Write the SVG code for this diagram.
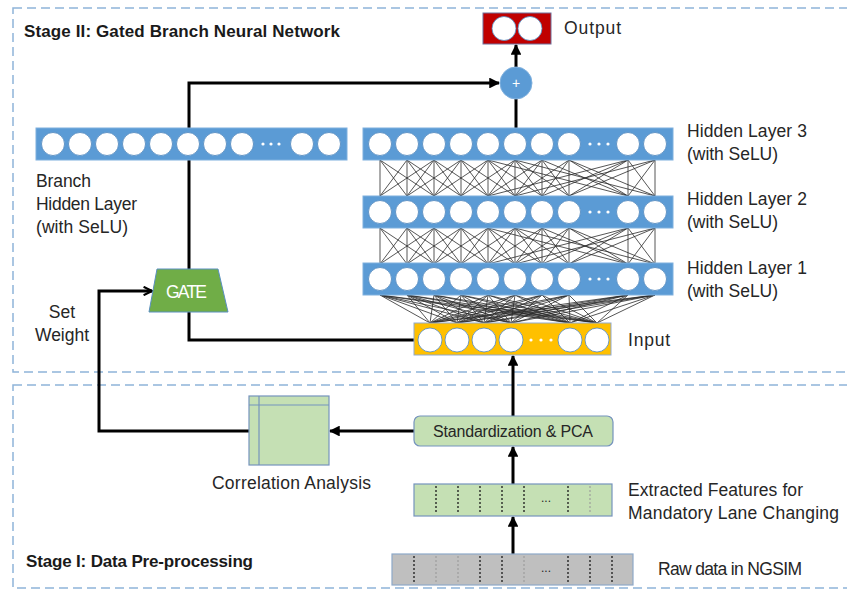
<svg xmlns="http://www.w3.org/2000/svg" xmlns:xlink="http://www.w3.org/1999/xlink" width="847" height="590" viewBox="0 0 847 590">
  <style>
    .frame { fill: none; stroke: #8fb4d9; stroke-width: 1.5; stroke-dasharray: 9 5; }
    .t { font-family: "Liberation Sans", Arial, sans-serif; font-size: 17.5px; fill: #262626; }
    .h { font-weight: bold; font-size: 17px; fill: #1a1a1a; }
    .bar { fill: #5b9bd5; stroke: #7fb0de; stroke-width: 1; }
    .node { fill: #ffffff; stroke: #4f86bd; stroke-width: 0.8; }
    .dot { fill: #ffffff; }
    .wire { stroke: #000000; stroke-width: 3; fill: none; }
    .mesh { stroke: #2b2b2b; stroke-width: 0.8; fill: none; }
    .green { fill: #c5e0b4; stroke: #7593bd; stroke-width: 1.2; }
    .grey { fill: #bfbfbf; stroke: #8ea9c9; stroke-width: 1.2; }
    .cell { stroke: #1a1a1a; stroke-width: 1.3; stroke-dasharray: 2 2; }
    .cellf { stroke: #9a9a9a; stroke-width: 1.1; stroke-dasharray: 2 2; }
  </style>
  <defs>
    <marker id="tri" viewBox="0 0 10 10" refX="9" refY="5" markerWidth="3.6" markerHeight="3.6" orient="auto" markerUnits="strokeWidth">
      <path d="M0 0L10 5L0 10z" fill="#000000"/>
    </marker>
    <marker id="chev" viewBox="0 0 10 10" refX="9" refY="5" markerWidth="3.5" markerHeight="3.5" orient="auto" markerUnits="strokeWidth">
      <path d="M1 1L9 5L1 9" fill="none" stroke="#000000" stroke-width="2"/>
    </marker>
  </defs>

  <rect width="847" height="590" fill="#ffffff"/>

  <!-- stage frames -->
  <g id="stage2">
    <rect class="frame" x="13" y="8" width="850" height="364"/>
    <text class="t h" x="24" y="37" textLength="316">Stage II: Gated Branch Neural Network</text>
  </g>
  <g id="stage1">
    <rect class="frame" x="13" y="385" width="850" height="203"/>
    <text class="t h" x="26" y="567" textLength="227">Stage I: Data Pre-processing</text>
  </g>

  <!-- connectors -->
  <g id="connectors">
    <!-- dense links between hidden layers 3 and 2 (repeated for 2 and 1) -->
    <path id="meshA" class="mesh" d="M380 160L380 196M380 160L407 196M380 160L434 196
      M407 160L380 196M407 160L407 196M407 160L434 196M407 160L461 196
      M434 160L380 196M434 160L407 196M434 160L434 196M434 160L461 196M434 160L488 196
      M461 160L407 196M461 160L434 196M461 160L461 196M461 160L488 196M461 160L515 196
      M488 160L434 196M488 160L461 196M488 160L488 196M488 160L515 196M488 160L542 196
      M515 160L461 196M515 160L488 196M515 160L515 196M515 160L542 196M515 160L569 196
      M542 160L488 196M542 160L515 196M542 160L542 196M542 160L569 196M542 160L628 196
      M569 160L515 196M569 160L542 196M569 160L569 196M569 160L628 196M569 160L655 196
      M628 160L542 196M628 160L569 196M628 160L628 196M628 160L655 196
      M655 160L569 196M655 160L628 196M655 160L655 196
      M488 160L628 196M515 160L655 196M655 160L515 196M628 160L488 196"/>
    <use xlink:href="#meshA" transform="translate(0,68)"/>
    <!-- hidden layer 1 to input -->
    <path class="mesh" stroke-width="0.7" d="
      M430 323L380 295M430 323L407 295M430 323L434 295M430 323L461 295M430 323L488 295M430 323L515 295M430 323L542 295M430 323L569 295M430 323L628 295M430 323L655 295
      M457 323L380 295M457 323L407 295M457 323L434 295M457 323L461 295M457 323L488 295M457 323L515 295M457 323L542 295M457 323L569 295M457 323L628 295M457 323L655 295
      M484 323L380 295M484 323L407 295M484 323L434 295M484 323L461 295M484 323L488 295M484 323L515 295M484 323L542 295M484 323L569 295M484 323L628 295M484 323L655 295
      M511 323L380 295M511 323L407 295M511 323L434 295M511 323L461 295M511 323L488 295M511 323L515 295M511 323L542 295M511 323L569 295M511 323L628 295M511 323L655 295
      M570 323L380 295M570 323L407 295M570 323L434 295M570 323L461 295M570 323L488 295M570 323L515 295M570 323L542 295M570 323L569 295M570 323L628 295M570 323L655 295
      M597 323L380 295M597 323L407 295M597 323L434 295M597 323L461 295M597 323L488 295M597 323L515 295M597 323L542 295M597 323L569 295M597 323L628 295M597 323L655 295"/>

    <!-- gate branch: input -> gate -> branch layer -> sum -->
    <path class="wire" d="M414 340H189V312"/>
    <path class="wire" d="M189 269V83H499" marker-end="url(#tri)"/>
    <!-- main path: hidden layer 3 -> sum -> output -->
    <path class="wire" d="M516 128V99"/>
    <path class="wire" d="M516 67V45" marker-end="url(#tri)"/>
    <!-- pre-processing chain -->
    <path class="wire" d="M513 554V517" marker-end="url(#tri)"/>
    <path class="wire" d="M513 484V447" marker-end="url(#tri)"/>
    <path class="wire" d="M513 416V356" marker-end="url(#tri)"/>
    <path class="wire" d="M414 431H330" marker-end="url(#tri)"/>
    <!-- correlation sets gate weights -->
    <path class="wire" d="M249 431H99V291H152" marker-end="url(#chev)"/>
  </g>

  <!-- output layer -->
  <g id="output">
    <rect x="483" y="13" width="68" height="31" fill="#c00000" stroke="#6f6f9a" stroke-width="1"/>
    <circle class="node" cx="504" cy="28.5" r="12"/>
    <circle class="node" cx="530" cy="28.5" r="12"/>
    <text class="t" x="564" y="34" textLength="57">Output</text>
  </g>

  <!-- sum node -->
  <g id="sum">
    <circle cx="516" cy="83" r="16" fill="#5b9bd5" stroke="#7fb0de" stroke-width="1"/>
    <text x="516" y="88" text-anchor="middle" font-family="Liberation Sans, Arial, sans-serif" font-size="14" fill="#ffffff">+</text>
  </g>

  <!-- branch hidden layer -->
  <g id="branch">
    <rect class="bar" x="36" y="128" width="311" height="32"/>
    <circle class="node" cx="53" cy="144" r="11.5"/>
    <circle class="node" cx="80" cy="144" r="11.5"/>
    <circle class="node" cx="107" cy="144" r="11.5"/>
    <circle class="node" cx="134" cy="144" r="11.5"/>
    <circle class="node" cx="161" cy="144" r="11.5"/>
    <circle class="node" cx="188" cy="144" r="11.5"/>
    <circle class="node" cx="215" cy="144" r="11.5"/>
    <circle class="node" cx="242" cy="144" r="11.5"/>
    <circle class="dot" cx="263" cy="144" r="1.6"/>
    <circle class="dot" cx="271" cy="144" r="1.6"/>
    <circle class="dot" cx="279" cy="144" r="1.6"/>
    <circle class="node" cx="302" cy="144" r="11.5"/>
    <circle class="node" cx="329" cy="144" r="11.5"/>
    <text class="t" x="36" y="187" textLength="55">Branch</text>
    <text class="t" x="36" y="210" textLength="101">Hidden Layer</text>
    <text class="t" x="36" y="233" textLength="92">(with SeLU)</text>
  </g>

  <!-- hidden layer 3 -->
  <g id="hidden3">
    <rect class="bar" x="363" y="128" width="310" height="32"/>
    <g id="row">
      <circle class="node" cx="380" cy="144" r="11.5"/>
      <circle class="node" cx="407" cy="144" r="11.5"/>
      <circle class="node" cx="434" cy="144" r="11.5"/>
      <circle class="node" cx="461" cy="144" r="11.5"/>
      <circle class="node" cx="488" cy="144" r="11.5"/>
      <circle class="node" cx="515" cy="144" r="11.5"/>
      <circle class="node" cx="542" cy="144" r="11.5"/>
      <circle class="node" cx="569" cy="144" r="11.5"/>
      <circle class="dot" cx="590" cy="144" r="1.6"/>
      <circle class="dot" cx="599" cy="144" r="1.6"/>
      <circle class="dot" cx="608" cy="144" r="1.6"/>
      <circle class="node" cx="628" cy="144" r="11.5"/>
      <circle class="node" cx="655" cy="144" r="11.5"/>
    </g>
    <text class="t" x="687" y="137" textLength="120">Hidden Layer 3</text>
    <text class="t" x="687" y="160" textLength="91">(with SeLU)</text>
  </g>

  <!-- hidden layer 2 -->
  <g id="hidden2">
    <rect class="bar" x="363" y="196" width="310" height="32"/>
    <use xlink:href="#row" transform="translate(0,68)"/>
    <text class="t" x="687" y="205" textLength="120">Hidden Layer 2</text>
    <text class="t" x="687" y="228" textLength="91">(with SeLU)</text>
  </g>

  <!-- hidden layer 1 -->
  <g id="hidden1">
    <rect class="bar" x="363" y="263" width="310" height="32"/>
    <use xlink:href="#row" transform="translate(0,135)"/>
    <text class="t" x="687" y="274" textLength="120">Hidden Layer 1</text>
    <text class="t" x="687" y="297" textLength="91">(with SeLU)</text>
  </g>

  <!-- input layer -->
  <g id="input">
    <rect x="414" y="323" width="197" height="32" fill="#ffc000" stroke="#8fa9cf" stroke-width="1"/>
    <circle class="node" cx="430" cy="340" r="12"/>
    <circle class="node" cx="457" cy="340" r="12"/>
    <circle class="node" cx="484" cy="340" r="12"/>
    <circle class="node" cx="511" cy="340" r="12"/>
    <circle class="dot" cx="531" cy="340" r="1.6"/>
    <circle class="dot" cx="541" cy="340" r="1.6"/>
    <circle class="dot" cx="551" cy="340" r="1.6"/>
    <circle class="node" cx="570" cy="340" r="12"/>
    <circle class="node" cx="597" cy="340" r="12"/>
    <text class="t" x="628" y="346" textLength="42">Input</text>
  </g>

  <!-- gate -->
  <g id="gate">
    <polygon points="157,269 218,269 228,312 149,312" fill="#70ad47" stroke="#5a8fc0" stroke-width="1"/>
    <text class="t" x="166" y="298" textLength="41" style="fill:#ffffff">GATE</text>
  </g>

  <!-- set weight label -->
  <g id="setweight">
    <text class="t" x="62" y="318" text-anchor="middle">Set</text>
    <text class="t" x="35" y="341" textLength="54">Weight</text>
  </g>

  <!-- correlation analysis -->
  <g id="correlation">
    <rect class="green" x="249" y="396" width="80" height="69"/>
    <line x1="259" y1="396" x2="259" y2="465" stroke="#7593bd" stroke-width="1.2"/>
    <line x1="249" y1="405" x2="329" y2="405" stroke="#7593bd" stroke-width="1.2"/>
    <text class="t" x="212" y="489" textLength="159">Correlation Analysis</text>
  </g>

  <!-- standardization and PCA -->
  <g id="standardization">
    <rect class="green" x="414" y="416" width="199" height="30" rx="6"/>
    <text class="t" x="433" y="437" textLength="160" style="font-size:16px">Standardization &amp; PCA</text>
  </g>

  <!-- extracted features -->
  <g id="features">
    <rect class="green" x="414" y="484" width="198" height="32"/>
    <line class="cell" x1="436" y1="486" x2="436" y2="514"/>
    <line class="cell" x1="458" y1="486" x2="458" y2="514"/>
    <line class="cell" x1="480" y1="486" x2="480" y2="514"/>
    <line class="cell" x1="502" y1="486" x2="502" y2="514"/>
    <line class="cell" x1="524" y1="486" x2="524" y2="514"/>
    <line class="cell" x1="568" y1="486" x2="568" y2="514"/>
    <line class="cellf" x1="590" y1="486" x2="590" y2="514"/>
    <text class="t" x="546" y="502" text-anchor="middle" style="font-size:12px">...</text>
    <text class="t" x="628" y="496" textLength="175">Extracted Features for</text>
    <text class="t" x="628" y="519" textLength="211">Mandatory Lane Changing</text>
  </g>

  <!-- raw data -->
  <g id="rawdata">
    <rect class="grey" x="392" y="554" width="241" height="31"/>
    <line class="cell" x1="414" y1="556" x2="414" y2="583"/>
    <line class="cellf" x1="436" y1="556" x2="436" y2="583"/>
    <line class="cellf" x1="458" y1="556" x2="458" y2="583"/>
    <line class="cell" x1="480" y1="556" x2="480" y2="583"/>
    <line class="cell" x1="502" y1="556" x2="502" y2="583"/>
    <line class="cellf" x1="524" y1="556" x2="524" y2="583"/>
    <line class="cell" x1="568" y1="556" x2="568" y2="583"/>
    <line class="cell" x1="590" y1="556" x2="590" y2="583"/>
    <line class="cell" x1="612" y1="556" x2="612" y2="583"/>
    <text class="t" x="546" y="572" text-anchor="middle" style="font-size:12px">...</text>
    <text class="t" x="658" y="575" textLength="144">Raw data in NGSIM</text>
  </g>
</svg>
